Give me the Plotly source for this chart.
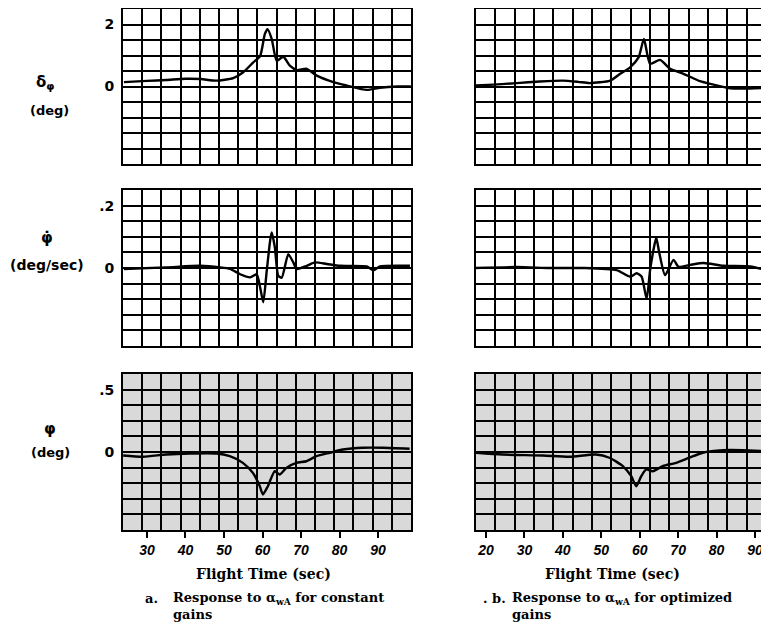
import plotly.graph_objects as go

# ---------------- data ----------------
# (a) constant gains
t_a_dphi = [24, 30, 35, 40, 44, 48, 52.4, 55, 57.6, 59.4, 60.6, 61.3, 62.4, 63.7, 65.4, 67.1, 68.9, 71.5, 74.1, 78.4, 81.9, 87.1, 90.5, 95, 98.5]
v_a_dphi = [0.14, 0.18, 0.21, 0.25, 0.24, 0.19, 0.27, 0.46, 0.78, 0.99, 1.69, 1.85, 1.53, 0.83, 0.96, 0.67, 0.53, 0.57, 0.35, 0.14, 0.03, -0.11, -0.04, 0.0, 0.0]

t_a_rate = [24, 35, 43.8, 49, 51.6, 54.2, 56.8, 58.5, 59.4, 60.2, 61.1, 62.0, 62.4, 63.2, 64.1, 65.0, 66.7, 68.0, 68.9, 71.5, 73.6, 76.7, 80.1, 87.1, 88.8, 90.5, 98.3]
v_a_rate = [-0.003, 0.002, 0.007, 0.002, -0.003, -0.02, -0.03, -0.02, -0.063, -0.11, -0.009, 0.089, 0.114, 0.067, -0.025, -0.031, 0.044, 0.018, -0.003, 0.007, 0.018, 0.013, 0.007, 0.005, -0.007, 0.005, 0.007]

t_a_phi = [23.8, 29, 35, 41.1, 48.0, 51.5, 54.9, 57.5, 59.3, 60.1, 61.4, 63.2, 64.5, 66.2, 68.8, 71.4, 74.0, 77.5, 80.9, 86.1, 91.3, 98.2]
v_a_phi = [-0.028, -0.038, -0.02, -0.012, -0.012, -0.034, -0.087, -0.167, -0.274, -0.34, -0.274, -0.154, -0.18, -0.127, -0.087, -0.074, -0.034, -0.006, 0.02, 0.034, 0.034, 0.026]

# (b) optimized gains
t_b_dphi = [17.4, 22, 28, 34, 40, 44, 47, 52.3, 54.9, 57.5, 59.7, 61.1, 62.7, 65.3, 67.9, 71.4, 75.7, 79.2, 82.7, 87, 92.8]
v_b_dphi = [0.03, 0.06, 0.11, 0.16, 0.19, 0.15, 0.11, 0.19, 0.41, 0.62, 0.94, 1.53, 0.73, 0.86, 0.57, 0.41, 0.17, 0.06, -0.04, -0.07, -0.04]

t_b_rate = [17.4, 28, 36.7, 45.3, 54.0, 57.5, 59.2, 60.5, 61.8, 62.7, 63.6, 64.3, 65.1, 66.6, 68.8, 70.1, 73.1, 76.6, 81.8, 88.8, 92.8]
v_b_rate = [0.0, 0.003, 0.0, 0.0, -0.007, -0.028, -0.017, -0.028, -0.099, -0.007, 0.059, 0.097, 0.048, -0.023, 0.026, 0.004, 0.01, 0.016, 0.007, 0.005, -0.007]

t_b_phi = [17.4, 24.3, 34.8, 41.7, 48.6, 52.1, 55.6, 57.8, 59.1, 60.4, 61.7, 63.4, 66.0, 69.5, 72.9, 76.4, 81.6, 86.8, 92.8]
v_b_phi = [-0.006, -0.02, -0.028, -0.038, -0.02, -0.046, -0.113, -0.194, -0.274, -0.194, -0.14, -0.154, -0.113, -0.087, -0.046, -0.006, 0.015, 0.015, 0.006]

xtick_a = [30, 40, 50, 60, 70, 80, 90]
xtick_b = [20, 30, 40, 50, 60, 70, 80, 90]
ytick_vals = [[0, 2], [0, 0.2], [0, 0.5]]
ytick_text = [["0", "2"], ["0", ".2"], ["0", ".5"]]
y_ranges = [[-2.5, 2.5], [-0.25, 0.25], [-0.625, 0.625]]
x_ranges = [[23.77, 98.57], [17.4, 92.86]]

series = [
    [(t_a_dphi, v_a_dphi), (t_b_dphi, v_b_dphi)],
    [(t_a_rate, v_a_rate), (t_b_rate, v_b_rate)],
    [(t_a_phi, v_a_phi), (t_b_phi, v_b_phi)],
]

# ---------------- layout geometry ----------------
# page body has an 8px margin, so the figure is drawn 8px in from the corner
OFF = 8
W, H = 769 - OFF, 628 - OFF


def PX(x):
    return (x - OFF) / W


def PY(y):
    return 1 - (y - OFF) / H


xdom = [[PX(123), PX(411)], [PX(476), PX(766)]]
ydom = [[PY(164), PY(9)], [PY(346), PY(190)], [PY(530), PY(374)]]

fig = go.Figure()
layout = {}
shapes = []
for r in range(3):
    for c in range(2):
        k = r * 2 + c + 1
        xs = "" if k == 1 else str(k)
        t, v = series[r][c]
        fig.add_trace(go.Scatter(x=t, y=v, mode="lines", xaxis="x" + xs, yaxis="y" + xs,
                                 line=dict(color="black", width=2.4, shape="spline", smoothing=0.6),
                                 hoverinfo="skip"))
        xr = x_ranges[c]
        yr = y_ranges[r]
        xa = dict(domain=xdom[c], range=xr, anchor="y" + xs, showgrid=False, zeroline=False,
                  showline=True, mirror=True, linecolor="black", linewidth=2,
                  minor=dict(tickmode="linear", tick0=xr[0], dtick=(xr[1] - xr[0]) / 15,
                             showgrid=True, gridcolor="black", gridwidth=1.6, ticks=""),
                  fixedrange=True)
        if r == 2:
            tv = xtick_a if c == 0 else xtick_b
            xa.update(tickmode="array", tickvals=tv,
                      ticktext=["<b><i>%d</i></b>" % x for x in tv],
                      ticks="outside", ticklen=6, tickwidth=2, tickcolor="black",
                      tickfont=dict(family="Liberation Sans", size=14, color="black"))
        else:
            xa.update(tickmode="array", tickvals=[], showticklabels=False, ticks="")
        ya = dict(domain=ydom[r], range=yr, anchor="x" + xs, showgrid=False, zeroline=False,
                  showline=True, mirror=True, linecolor="black", linewidth=2,
                  minor=dict(tickmode="linear", tick0=yr[0], dtick=(yr[1] - yr[0]) / 10,
                             showgrid=True, gridcolor="black", gridwidth=1.6, ticks=""),
                  fixedrange=True)
        if c == 0:
            ya.update(tickmode="array", tickvals=ytick_vals[r],
                      ticktext=["<b>%s</b>" % s for s in ytick_text[r]],
                      ticks="", ticklabelstandoff=4,
                      tickfont=dict(family="DejaVu Sans", size=14, color="black"))
        else:
            ya.update(tickmode="array", tickvals=[], showticklabels=False, ticks="")
        layout["xaxis" + xs] = xa
        layout["yaxis" + xs] = ya
        if r == 2:
            shapes.append(dict(type="rect", xref="x%s domain" % xs, yref="y%s domain" % xs,
                               x0=0, x1=1, y0=0, y1=1, fillcolor="#d9d9d9",
                               line=dict(width=0), layer="below"))

fig.update_layout(**layout)

ann = []


def A(text, x, y, size=14, family="DejaVu Sans", xanchor="center", align="center"):
    ann.append(dict(text=text, x=PX(x), y=PY(y), xref="paper", yref="paper",
                    showarrow=False, xanchor=xanchor, yanchor="middle", align=align,
                    font=dict(family=family, size=size, color="black")))


# y-axis labels
A("<b>δ<sub>φ</sub></b>", 45, 82, size=15)
A("<b>(deg)</b>", 49, 110, size=13)
A("<b>φ̇</b>", 47, 238, size=15)
A("<b>(deg/sec)</b>", 47, 265, size=14)
A("<b>φ</b>", 50, 429, size=15)
A("<b>(deg)</b>", 50, 452, size=13)

# x-axis titles
A("<b>Flight Time (sec)</b>", 263, 574, size=14, family="DejaVu Serif")
A("<b>Flight Time (sec)</b>", 612, 574, size=14, family="DejaVu Serif")

# captions
A("<b>a.</b>", 143, 598, size=13, family="DejaVu Serif", xanchor="left")
A("<b>Response to α<sub>wA</sub> for constant<br>gains</b>", 171, 606, size=13,
  family="DejaVu Serif", xanchor="left", align="left")
A("<b>. b.</b>", 481, 598, size=13, family="DejaVu Serif", xanchor="left")
A("<b>Response to α<sub>wA</sub> for optimized<br>gains</b>", 510, 606, size=13,
  family="DejaVu Serif", xanchor="left", align="left")

fig.update_layout(width=W, height=H, margin=dict(l=0, r=0, t=0, b=0),
                  paper_bgcolor="white", plot_bgcolor="white", showlegend=False,
                  annotations=ann, shapes=shapes)

fig.write_html("out.html",
               post_script="document.documentElement.style.overflow='hidden';"
                           "document.body.style.overflow='hidden';")
